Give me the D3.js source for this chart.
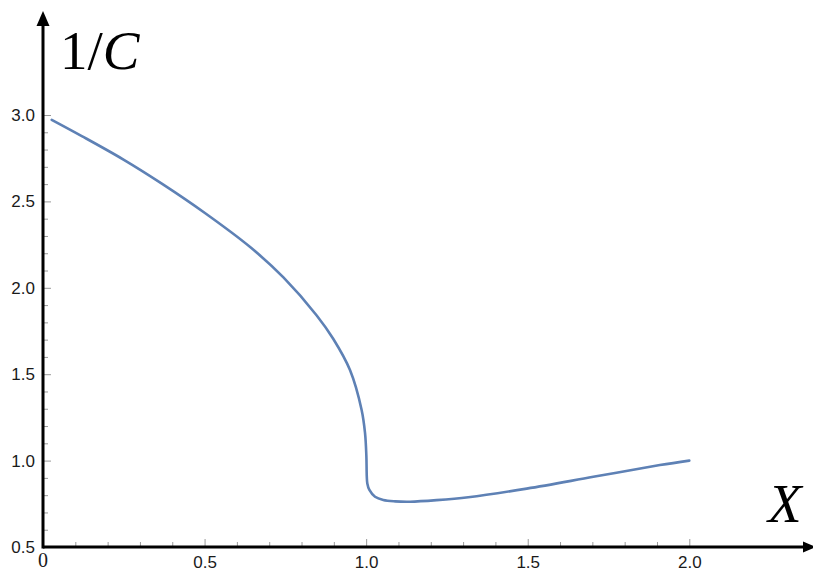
<!DOCTYPE html>
<html>
<head>
<meta charset="utf-8">
<script src="https://cdn.jsdelivr.net/npm/d3@7"></script>
<style>
  body { margin: 0; background: #fff; }
  .tick text { font-family: "Liberation Sans", Arial, sans-serif; font-size: 17px; fill: #1a1a1a; }
  .tick line { stroke: #9a9a9a; stroke-width: 1; }
</style>
</head>
<body>
<div id="chart"></div>
<script>
// curve values
const xValues = [0.027, 0.12, 0.249, 0.37, 0.501, 0.641, 0.744, 0.847, 0.898, 0.95, 0.986, 0.9965, 1.0006, 1.002, 1.0036, 1.01, 1.0275, 1.053, 1.09, 1.136, 1.218, 1.316, 1.497, 1.703, 1.909, 2.0];
const yValues = [2.972, 2.878, 2.742, 2.600, 2.433, 2.236, 2.060, 1.840, 1.705, 1.524, 1.293, 1.160, 1.03, 0.907, 0.868, 0.83, 0.791, 0.772, 0.764, 0.762, 0.771, 0.788, 0.838, 0.906, 0.974, 1.0];

const xMajor = [0.5, 1.0, 1.5, 2.0];
const yMajor = [0.5, 1.0, 1.5, 2.0, 2.5, 3.0];
const xMinor = d3.range(1, 20).filter(i => i % 5 !== 0).map(i => i / 10);
const yMinor = d3.range(6, 30).filter(i => i % 5 !== 0).map(i => i / 10);

const width = 813, height = 569;

const svg = d3.select('#chart').append('svg')
  .attr('width', width)
  .attr('height', height);

// SCALES
const x = d3.scaleLinear().domain([0, 2]).range([43, 689.3]);
const y = d3.scaleLinear().domain([0.5, 3]).range([547, 115]);

// AXES (ticks point inward, Mathematica style)
svg.append('g')
  .attr('transform', 'translate(0,' + y(0.5) + ')')
  .call(d3.axisBottom(x).tickValues(xMinor).tickSizeInner(-5).tickSizeOuter(0).tickFormat(''))
  .call(g => g.select('.domain').remove());

svg.append('g')
  .attr('transform', 'translate(0,' + y(0.5) + ')')
  .call(d3.axisBottom(x).tickValues(xMajor).tickSizeInner(-8).tickSizeOuter(0).tickPadding(9).tickFormat(d3.format('.1f')))
  .call(g => g.select('.domain').remove());

svg.append('g')
  .attr('transform', 'translate(' + x(0) + ',0)')
  .call(d3.axisLeft(y).tickValues(yMinor).tickSizeInner(-5).tickSizeOuter(0).tickFormat(''))
  .call(g => g.select('.domain').remove());

svg.append('g')
  .attr('transform', 'translate(' + x(0) + ',0)')
  .call(d3.axisLeft(y).tickValues(yMajor).tickSizeInner(-8).tickSizeOuter(0).tickPadding(8).tickFormat(d3.format('.1f')))
  .call(g => g.select('.domain').remove());

// origin label in serif
svg.append('text')
  .attr('x', x(0))
  .attr('y', 567)
  .attr('text-anchor', 'middle')
  .style('font-family', '"Liberation Serif", "Times New Roman", serif')
  .style('font-size', '20px')
  .style('fill', '#1a1a1a')
  .text('0');

// axis lines with arrows
svg.append('line')
  .attr('x1', x(0)).attr('y1', y(0.5))
  .attr('x2', 806).attr('y2', y(0.5))
  .attr('stroke', '#000').attr('stroke-width', 3);
svg.append('path')
  .attr('d', 'M803,' + (y(0.5) - 5.5) + 'L816,' + y(0.5) + 'L803,' + (y(0.5) + 5.5) + 'Z')
  .attr('fill', '#000');

svg.append('line')
  .attr('x1', x(0)).attr('y1', y(0.5) + 1.5)
  .attr('x2', x(0)).attr('y2', 22)
  .attr('stroke', '#000').attr('stroke-width', 3);
svg.append('path')
  .attr('d', 'M' + (x(0) - 6.5) + ',26L' + x(0) + ',11L' + (x(0) + 6.5) + ',26Z')
  .attr('fill', '#000');

// axis titles
svg.append('text')
  .attr('x', 60)
  .attr('y', 69)
  .style('font-family', '"Liberation Serif", "Times New Roman", serif')
  .style('font-size', '55px')
  .text('1/')
  .append('tspan')
  .style('font-style', 'italic')
  .text('C');

svg.append('text')
  .attr('x', 768)
  .attr('y', 522)
  .style('font-family', '"Liberation Serif", "Times New Roman", serif')
  .style('font-size', '55px')
  .style('font-style', 'italic')
  .text('X');

// CURVE
const line = d3.line()
  .x(i => x(xValues[i]))
  .y(i => y(yValues[i]))
  .curve(d3.curveCatmullRom.alpha(0.5));

svg.append('path')
  .datum(d3.range(xValues.length))
  .attr('d', line)
  .attr('fill', 'none')
  .attr('stroke', '#5e81b5')
  .attr('stroke-width', 2.6)
  .attr('stroke-linejoin', 'round')
  .attr('stroke-linecap', 'round');
</script>
</body>
</html>
